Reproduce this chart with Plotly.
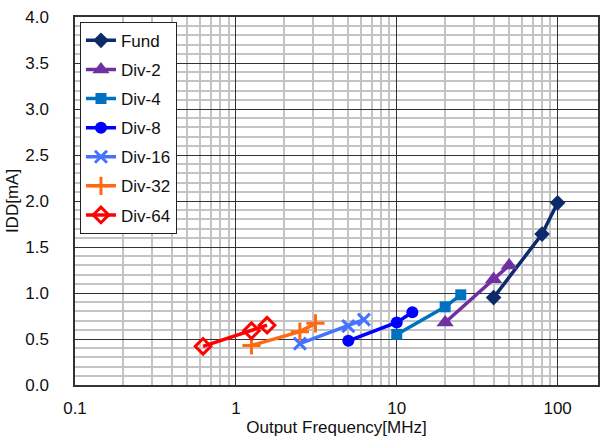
import plotly.graph_objects as go

series_names = ["Fund", "Div-2", "Div-4", "Div-8", "Div-16", "Div-32", "Div-64"]
fund_x = [40, 80, 100]
fund_y = [0.95, 1.64, 1.98]
div2_x = [20, 40, 50]
div2_y = [0.68, 1.15, 1.30]
div4_x = [10, 20, 25]
div4_y = [0.55, 0.85, 0.98]
div8_x = [5, 10, 12.5]
div8_y = [0.48, 0.68, 0.79]
div16_x = [2.5, 5, 6.25]
div16_y = [0.45, 0.64, 0.71]
div32_x = [1.25, 2.5, 3.125]
div32_y = [0.43, 0.58, 0.67]
div64_x = [0.625, 1.25, 1.5625]
div64_y = [0.42, 0.59, 0.65]

xs = [fund_x, div2_x, div4_x, div8_x, div16_x, div32_x, div64_x]
ys = [fund_y, div2_y, div4_y, div8_y, div16_y, div32_y, div64_y]
colors = ["#0D2A6B", "#7030A0", "#0070C0", "#0000FF", "#4472FF", "#FF6A10", "#FF0000"]
symbols = ["diamond", "triangle-up", "square", "circle", "x-thin", "cross-thin", "diamond-open"]
sizes = [12, 15, 11, 12, 12, 13, 12]

fig = go.Figure()
for i, name in enumerate(series_names):
    mline = dict(width=3, color=colors[i]) if symbols[i] in ("x-thin", "cross-thin", "diamond-open") else dict(width=0)
    fig.add_trace(go.Scatter(
        x=xs[i], y=ys[i], name=name, mode="lines+markers",
        line=dict(color=colors[i], width=3.5),
        marker=dict(symbol=symbols[i], size=sizes[i], color=colors[i], line=mline),
        legendgroup=name,
    ))

font = dict(family="Liberation Sans, Arial, sans-serif", size=17, color="#111111")

fig.update_layout(
    width=600, height=439,
    margin=dict(l=75, r=0, t=17, b=54),
    paper_bgcolor="white", plot_bgcolor="white",
    font=font,
    showlegend=True,
    legend=dict(x=0.0095, y=0.987, xanchor="left", yanchor="top",
                bordercolor="#222222", borderwidth=1, bgcolor="white",
                font=font,
                tracegroupgap=4, itemwidth=30),
    xaxis=dict(type="log", range=[-1, 2.251], dtick=1,
               showgrid=True, gridcolor="#333333", gridwidth=1,
               showline=True, linecolor="#333333", linewidth=1.5, mirror=True,
               ticks="", tickfont=font, ticklabelstandoff=7,
               minor=dict(dtick="D1", showgrid=True, gridcolor="#C4C4C4", gridwidth=1.5),
               title=dict(text="Output Frequency[MHz]", font=font, standoff=0),
               zeroline=False),
    yaxis=dict(range=[0, 4], dtick=0.5, tickformat=".1f",
               showgrid=True, gridcolor="#333333", gridwidth=1,
               showline=True, linecolor="#333333", linewidth=1.5, mirror=True,
               ticks="", tickfont=font, ticklabelstandoff=21,
               minor=dict(dtick=0.1, showgrid=True, gridcolor="#C4C4C4", gridwidth=1.5),
               title=dict(text="IDD[mA]", font=font, standoff=2),
               zeroline=False),
)

fig.write_html("out.html")
